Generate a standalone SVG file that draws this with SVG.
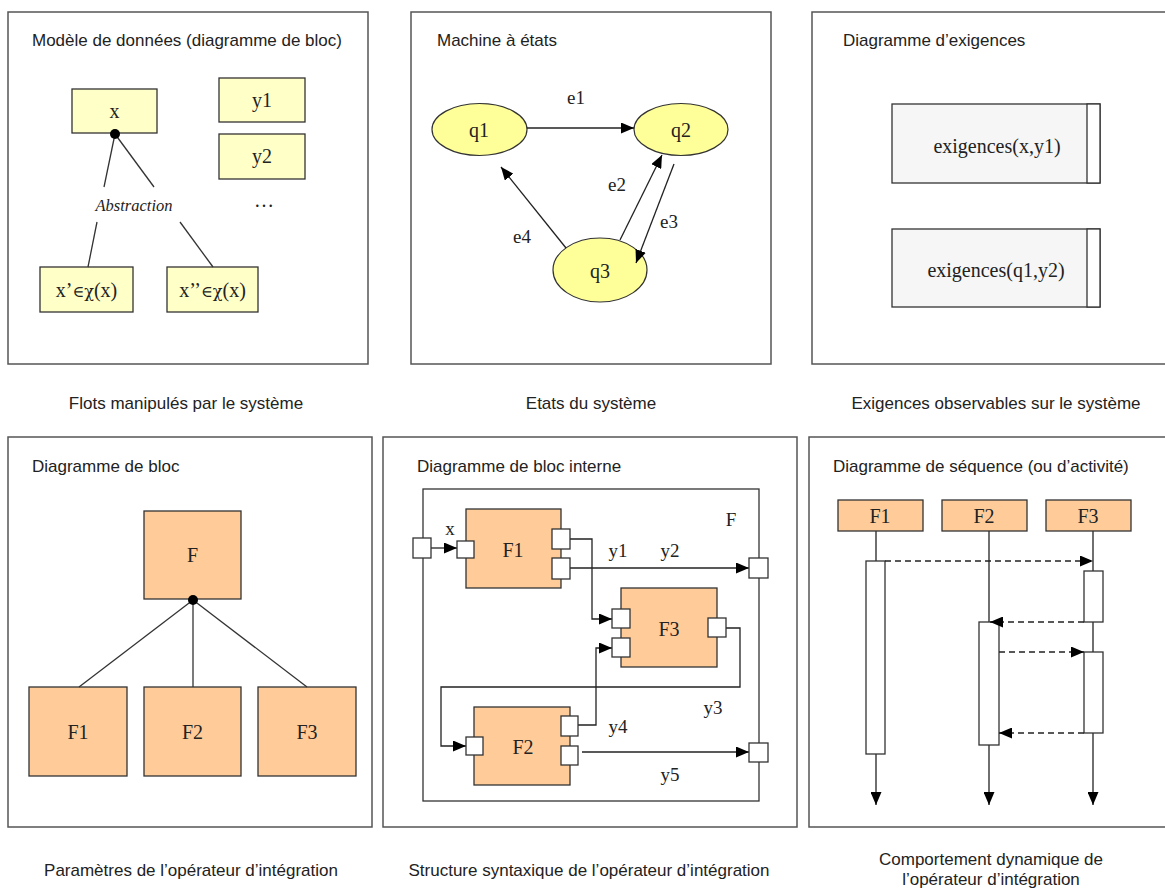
<svg xmlns="http://www.w3.org/2000/svg" width="1165" height="888" viewBox="0 0 1165 888">
<defs>
<style>
.panel{fill:#fff;stroke:#555;stroke-width:1.5}
.title{font-family:"Liberation Sans",Arial,sans-serif;font-size:17px;fill:#222}
.cap{font-family:"Liberation Sans",Arial,sans-serif;font-size:17px;fill:#222;text-anchor:middle}
.serif{font-family:"Liberation Serif","Times New Roman",serif;font-size:20px;fill:#222;text-anchor:middle}
.sym{font-family:"DejaVu Serif",serif;font-size:16px}
.lbl{font-family:"Liberation Serif","Times New Roman",serif;font-size:19px;fill:#222;text-anchor:middle}
.ybox{fill:#ffffc8;stroke:#333;stroke-width:1.3}
.yell{fill:#ffff99;stroke:#333;stroke-width:1.2}
.obox{fill:#ffcc99;stroke:#333;stroke-width:1.3}
.gbox{fill:#f6f6f6;stroke:#333;stroke-width:1.3}
.port{fill:#fff;stroke:#333;stroke-width:1.3}
.ln{fill:none;stroke:#333;stroke-width:1.3}
.arr{fill:none;stroke:#222;stroke-width:1.3;marker-end:url(#ah)}
.dash{fill:none;stroke:#222;stroke-width:1.5;stroke-dasharray:6 4;marker-end:url(#ah)}
</style>
<marker id="ah" viewBox="0 0 13 11" refX="13" refY="5.5" markerWidth="13" markerHeight="11" markerUnits="userSpaceOnUse" orient="auto">
<path d="M0,0 L13,5.5 L0,11 Z" fill="#000"/>
</marker>
</defs>
<rect width="1165" height="888" fill="#fff"/>

<!-- Panel 1 -->
<g id="panel1">
<rect class="panel" x="8" y="12" width="360" height="352"/>
<text class="title" x="32" y="46">Modèle de données (diagramme de bloc)</text>
</g>
<g id="p1-x"><rect class="ybox" x="72" y="89" width="85" height="44"/><text class="serif" x="114.5" y="118">x</text></g>
<g id="p1-y1"><rect class="ybox" x="219" y="78" width="86" height="44"/><text class="serif" x="262" y="107">y1</text></g>
<g id="p1-y2"><rect class="ybox" x="219" y="134" width="86" height="45"/><text class="serif" x="262" y="163">y2</text></g>
<g id="p1-dots"><text class="serif" x="264" y="207">…</text></g>
<g id="p1-abs"><text x="134" y="211" font-family="'Liberation Serif','Times New Roman',serif" font-style="italic" font-size="16.5" fill="#222" text-anchor="middle">Abstraction</text></g>
<g id="p1-xp"><rect class="ybox" x="40" y="267" width="93" height="45"/><text class="serif" x="86.5" y="297">x’<tspan class="sym">∈χ</tspan>(x)</text></g>
<g id="p1-xpp"><rect class="ybox" x="167" y="267" width="91" height="45"/><text class="serif" x="212.5" y="297">x’’<tspan class="sym">∈χ</tspan>(x)</text></g>
<g id="p1-conn">
<line class="ln" x1="115" y1="134" x2="104" y2="187"/>
<line class="ln" x1="115" y1="134" x2="154" y2="187"/>
<line class="ln" x1="97" y1="222" x2="88" y2="267"/>
<line class="ln" x1="180" y1="222" x2="213" y2="267"/>
<circle cx="115" cy="134" r="5" fill="#000"/>
</g>

<!-- Panel 2 -->
<g id="panel2">
<rect class="panel" x="411" y="12" width="360" height="352"/>
<text class="title" x="437" y="46">Machine à états</text>
</g>
<g id="q1"><ellipse class="yell" cx="479.5" cy="129.5" rx="47.5" ry="26"/><text class="serif" x="479" y="137">q1</text></g>
<g id="q2"><ellipse class="yell" cx="681" cy="129.5" rx="47" ry="26"/><text class="serif" x="681" y="137">q2</text></g>
<g id="q3"><ellipse class="yell" cx="600" cy="270" rx="47" ry="32"/><text class="serif" x="600" y="278">q3</text></g>
<g id="p2-conn">
<line class="arr" x1="527" y1="128" x2="634" y2="128"/>
<line class="arr" x1="620" y1="240" x2="662" y2="155"/>
<line class="arr" x1="674" y1="164" x2="636" y2="263"/>
<line class="arr" x1="566" y1="248" x2="501" y2="167"/>
<text class="lbl" x="576" y="104">e1</text>
<text class="lbl" x="617" y="191">e2</text>
<text class="lbl" x="669" y="228">e3</text>
<text class="lbl" x="522" y="243">e4</text>
</g>

<!-- Panel 3 -->
<g id="panel3">
<rect class="panel" x="812" y="12" width="360" height="352"/>
<text class="title" x="843" y="46">Diagramme d’exigences</text>
</g>
<g id="req1"><rect class="gbox" x="892" y="104" width="208" height="79"/><rect x="1087" y="104" width="13" height="79" fill="#fff" stroke="#333" stroke-width="1.3"/><text class="serif" x="997" y="153">exigences(x,y1)</text></g>
<g id="req2"><rect class="gbox" x="892" y="229" width="208" height="78"/><rect x="1087" y="229" width="13" height="78" fill="#fff" stroke="#333" stroke-width="1.3"/><text class="serif" x="996" y="277">exigences(q1,y2)</text></g>

<!-- Top captions -->
<g id="captions-top">
<text class="cap" x="186" y="409">Flots manipulés par le système</text>
<text class="cap" x="591" y="409">Etats du système</text>
<text class="cap" x="996" y="409">Exigences observables sur le système</text>
</g>

<!-- Panel 4 -->
<g id="panel4">
<rect class="panel" x="8" y="437" width="364" height="390"/>
<text class="title" x="32" y="472">Diagramme de bloc</text>
</g>
<g id="p4-F"><rect class="obox" x="144" y="511" width="97" height="88"/><text class="serif" x="192.5" y="562">F</text></g>
<g id="p4-F1"><rect class="obox" x="29" y="687" width="98" height="89"/><text class="serif" x="78" y="739">F1</text></g>
<g id="p4-F2"><rect class="obox" x="144" y="687" width="97" height="89"/><text class="serif" x="192.5" y="739">F2</text></g>
<g id="p4-F3"><rect class="obox" x="258" y="687" width="98" height="89"/><text class="serif" x="307" y="739">F3</text></g>
<g id="p4-conn">
<line class="ln" x1="193" y1="600" x2="79" y2="687"/>
<line class="ln" x1="193" y1="600" x2="193" y2="687"/>
<line class="ln" x1="193" y1="600" x2="307" y2="687"/>
<circle cx="193" cy="600" r="5" fill="#000"/>
</g>

<!-- Panel 5 -->
<g id="panel5">
<rect class="panel" x="383" y="437" width="414" height="390"/>
<text class="title" x="417" y="472">Diagramme de bloc interne</text>
<rect x="423" y="489" width="336" height="312" fill="none" stroke="#333" stroke-width="1.3"/>
<text class="lbl" x="731" y="526">F</text>
</g>
<g id="p5-F1"><rect class="obox" x="466" y="509" width="95" height="79"/><text class="serif" x="513" y="557">F1</text></g>
<g id="p5-F3"><rect class="obox" x="621" y="588" width="96" height="79"/><text class="serif" x="669" y="636">F3</text></g>
<g id="p5-F2"><rect class="obox" x="474" y="707" width="96" height="78"/><text class="serif" x="523" y="754">F2</text></g>
<g id="p5-conn">
<line class="arr" x1="431" y1="548" x2="457" y2="548"/>
<polyline class="arr" points="570,539 592,539 592,619 612,619"/>
<line class="arr" x1="570" y1="568" x2="749" y2="568"/>
<polyline class="arr" points="726,628 740,628 740,687 441,687 441,746 466,746"/>
<polyline class="arr" points="578,725 596,725 596,648 612,648"/>
<line class="arr" x1="582" y1="752" x2="749" y2="752"/>
<text class="lbl" x="450" y="535">x</text>
<text class="lbl" x="618" y="557">y1</text>
<text class="lbl" x="670" y="557">y2</text>
<text class="lbl" x="713" y="714">y3</text>
<text class="lbl" x="618" y="733">y4</text>
<text class="lbl" x="670" y="781">y5</text>
</g>
<g id="p5-ports">
<rect class="port" x="413" y="538" width="18" height="20"/>
<rect class="port" x="457" y="541" width="17" height="17"/>
<rect class="port" x="552" y="529" width="18" height="20"/>
<rect class="port" x="552" y="558" width="18" height="21"/>
<rect class="port" x="612" y="609" width="18" height="19"/>
<rect class="port" x="612" y="638" width="18" height="19"/>
<rect class="port" x="708" y="618" width="18" height="19"/>
<rect class="port" x="749" y="558" width="19" height="20"/>
<rect class="port" x="466" y="737" width="17" height="18"/>
<rect class="port" x="561" y="716" width="17" height="20"/>
<rect class="port" x="561" y="746" width="17" height="19"/>
<rect class="port" x="749" y="743" width="19" height="19"/>
</g>

<!-- Panel 6 -->
<g id="panel6">
<rect class="panel" x="809" y="437" width="362" height="390"/>
<text class="title" x="833" y="472">Diagramme de séquence (ou d’activité)</text>
</g>
<g id="lifelines">
<line class="arr" x1="876" y1="531" x2="876" y2="805"/>
<line class="arr" x1="989" y1="531" x2="989" y2="805"/>
<line class="arr" x1="1093" y1="531" x2="1093" y2="805"/>
</g>
<g id="s-F1"><rect class="obox" x="838" y="500" width="85" height="31"/><text class="serif" x="880" y="523">F1</text></g>
<g id="s-F2"><rect class="obox" x="942" y="500" width="85" height="31"/><text class="serif" x="984" y="523">F2</text></g>
<g id="s-F3"><rect class="obox" x="1046" y="500" width="85" height="31"/><text class="serif" x="1088" y="523">F3</text></g>
<g id="activations">
<rect class="port" x="866" y="561" width="19" height="193"/>
<rect class="port" x="1084" y="571" width="19" height="51"/>
<rect class="port" x="979" y="622" width="20" height="123"/>
<rect class="port" x="1084" y="652" width="19" height="81"/>
</g>
<g id="messages">
<line class="dash" x1="885" y1="561" x2="1093" y2="561"/>
<line class="dash" x1="1084" y1="622" x2="990" y2="622"/>
<line class="dash" x1="999" y1="652" x2="1084" y2="652"/>
<line class="dash" x1="1084" y1="733" x2="999" y2="733"/>
</g>

<!-- Bottom captions -->
<g id="captions-bottom">
<text class="cap" x="191" y="876">Paramètres de l’opérateur d’intégration</text>
<text class="cap" x="589" y="876">Structure syntaxique de l’opérateur d’intégration</text>
<text class="cap" x="991" y="865">Comportement dynamique de</text>
<text class="cap" x="991" y="885">l’opérateur d’intégration</text>
</g>
</svg>
